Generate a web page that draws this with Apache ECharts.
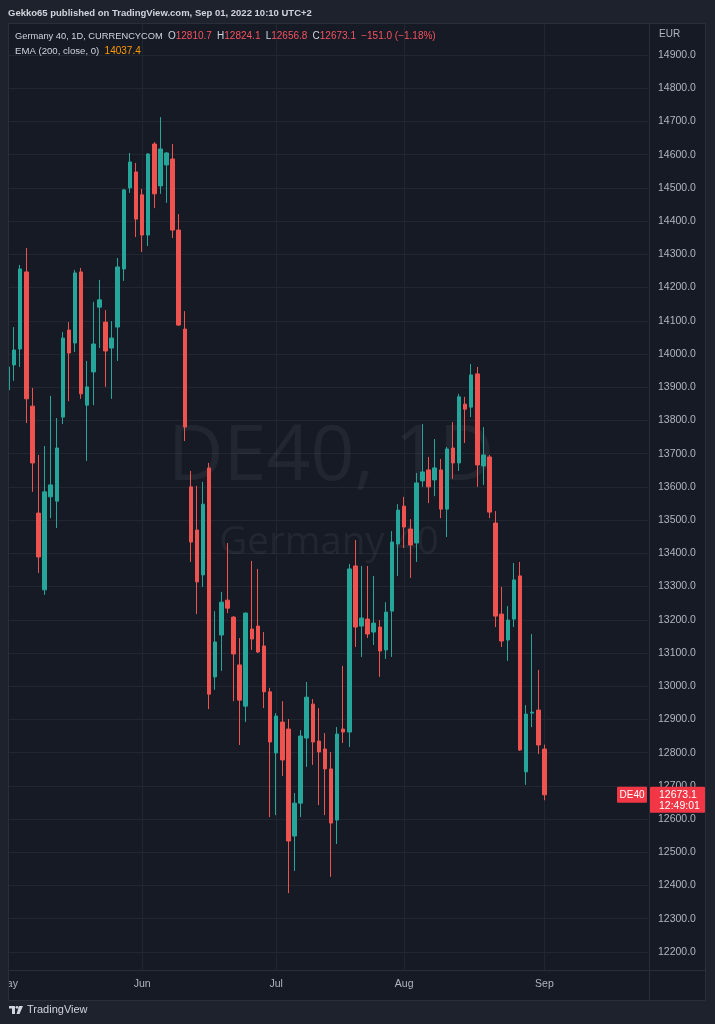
<!DOCTYPE html>
<html><head><meta charset="utf-8">
<script src="https://cdn.jsdelivr.net/npm/echarts@6/dist/echarts.min.js"></script>
<style>html,body{margin:0;padding:0;background:#1e222d;}#c{width:715px;height:1024px;}</style>
</head><body><div id="c"></div>
<script>
// ---- data ----
const dates = [
 '2022-05-02','2022-05-03','2022-05-04','2022-05-05','2022-05-06','2022-05-09','2022-05-10','2022-05-11','2022-05-12','2022-05-13',
 '2022-05-16','2022-05-17','2022-05-18','2022-05-19','2022-05-20','2022-05-23','2022-05-24','2022-05-25','2022-05-26','2022-05-27',
 '2022-05-30','2022-05-31',
 '2022-06-01','2022-06-02','2022-06-03','2022-06-06','2022-06-07','2022-06-08','2022-06-09','2022-06-10','2022-06-13','2022-06-14',
 '2022-06-15','2022-06-16','2022-06-17','2022-06-20','2022-06-21','2022-06-22','2022-06-23','2022-06-24','2022-06-27','2022-06-28',
 '2022-06-29','2022-06-30',
 '2022-07-01','2022-07-04','2022-07-05','2022-07-06','2022-07-07','2022-07-08','2022-07-11','2022-07-12','2022-07-13','2022-07-14',
 '2022-07-15','2022-07-18','2022-07-19','2022-07-20','2022-07-21','2022-07-22','2022-07-25','2022-07-26','2022-07-27','2022-07-28',
 '2022-07-29',
 '2022-08-01','2022-08-02','2022-08-03','2022-08-04','2022-08-05','2022-08-08','2022-08-09','2022-08-10','2022-08-11','2022-08-12',
 '2022-08-15','2022-08-16','2022-08-17','2022-08-18','2022-08-19','2022-08-22','2022-08-23','2022-08-24','2022-08-25','2022-08-26',
 '2022-08-29','2022-08-30','2022-08-31',
 '2022-09-01',
 // empty future space on the right of the chart
 '2022-09-02','2022-09-05','2022-09-06','2022-09-07','2022-09-08','2022-09-09','2022-09-12','2022-09-13','2022-09-14','2022-09-15',
 '2022-09-16','2022-09-19','2022-09-20','2022-09-21','2022-09-22','2022-09-23','2022-09-26'
];
const opens = [13892,13967,14015,14247,13843,13521,13290,13570,13557,13810,
 14072,14033,14247,13846,13946,14141,14096,14018,14081,14256,
 14500,14548,14479,14358,14632,14506,14569,14587,14373,14075,
 13600,13470,13335,13657,13028,13154,13259,13208,13064,12940,
 13172,13181,13121,12983,12799,12892,12871,12549,12648,12844,
 12946,12835,12811,12751,12597,12871,12862,13362,13181,13202,
 13163,13178,13109,13226,13428,13542,13473,13431,13618,13651,
 13621,13651,13533,13717,13672,13849,13840,13940,13663,13690,
 13491,13217,13139,13202,13332,12742,12919,12928,12810.7];
const closes = [13961,14012,14256,13865,13672,13389,13585,13606,13717,14048,
 14003,14244,13880,13901,14030,14163,14009,14048,14262,14494,
 14578,14406,14358,14602,14482,14617,14605,14373,14087,13780,
 13434,13314,13548,12976,13133,13253,13235,13097,12958,13220,
 13142,13103,12983,12832,12910,12778,12534,12648,12850,12967,
 12832,12802,12751,12588,12856,12862,13353,13178,13205,13157,
 13190,13106,13223,13434,13530,13479,13425,13612,13645,13600,
 13657,13533,13714,13672,13871,13834,13937,13666,13696,13524,
 13211,13136,13199,13320,12808,12916,12922,12823,12673.1];
const lows = [13801,13919,13961,13792,13585,13341,13275,13506,13476,13789,
 13858,14006,13865,13678,13846,14018,13901,13865,13979,14220,
 14485,14352,14307,14325,14439,14482,14455,14349,14085,13738,
 13374,13217,13299,12931,12989,13046,13220,12955,12823,12892,
 13109,13100,12934,12606,12612,12730,12377,12444,12606,12757,
 12763,12642,12612,12426,12525,12829,12817,13118,13088,13145,
 13124,13028,13082,13088,13332,13416,13326,13374,13600,13551,
 13572,13506,13449,13624,13648,13732,13810,13600,13606,13506,
 13178,13118,13076,13178,12805,12703,12877,12796,12656.8];
const highs = [14042,14081,14268,14319,13898,13696,13723,13874,13807,14066,
 14096,14253,14259,13979,14157,14223,14132,14099,14289,14497,
 14605,14575,14497,14605,14638,14713,14608,14632,14421,14129,
 13648,13603,13615,13672,13226,13284,13431,13211,13145,13222,
 13377,13353,13163,12995,12919,12955,12901,12678,12868,13013,
 12961,12934,12859,12802,12877,13061,13368,13440,13362,13362,
 13332,13199,13253,13467,13548,13570,13503,13642,13789,13690,
 13744,13684,13720,13795,13880,13871,13970,13961,13780,13696,
 13527,13299,13241,13371,13374,12943,13157,13049,12824.1];
const monthTicks = {'2022-05-02':'May','2022-06-01':'Jun','2022-07-01':'Jul','2022-08-01':'Aug','2022-09-01':'Sep'};
const priceMin = 12100, priceMax = 15000, priceStep = 100;
const emaValue = 14037.4;
const symbolText = 'DE40, 1D', symbolName = 'Germany 40';
const headerText = 'Gekko65 published on TradingView.com, Sep 01, 2022 10:10 UTC+2';
const changeText = '\u2212151.0 (\u22121.18%)';
const countdown = '12:49:01';

// ---- chart ----
const UP = '#26a69a', DOWN = '#ef5350';
const CHART_BG = '#161a25', OUTER = '#1e222d', GRID = '#222631', FRAME = '#2a2e39';
const FONT = '"Liberation Sans", Arial, sans-serif';
const candles = opens.map((o, i) => [o, closes[i], lows[i], highs[i]]);
const isTick = (idx) => monthTicks[dates[idx]] !== undefined;
const last = candles.length - 1;

const chart = echarts.init(document.getElementById('c'));
const gridTop = 21.78, gridH = 963.4;
chart.setOption({
  backgroundColor: CHART_BG,
  animation: false,
  grid: {left: 8, right: 67, top: gridTop, height: gridH, containLabel: false, outerBoundsMode: 'none'},
  xAxis: [
    {type: 'category', data: dates, boundaryGap: false, offset: -15, z: 5,
     axisLine: {show: false}, axisTick: {show: false},
     axisLabel: {interval: (i) => isTick(i), formatter: (v) => monthTicks[v] || '',
                 color: '#b2b5be', fontSize: 10.5, fontFamily: FONT, margin: 8, hideOverlap: false},
     splitLine: {show: false}},
    {type: 'category', data: dates, boundaryGap: false, show: true, z: 0,
     axisLine: {show: false}, axisTick: {show: false}, axisLabel: {show: false},
     splitLine: {show: true, interval: (i) => isTick(i), lineStyle: {color: GRID, width: 1}}}
  ],
  yAxis: {type: 'value', position: 'right', min: priceMin, max: priceMax, interval: priceStep,
    axisLine: {show: false}, axisTick: {show: false},
    axisLabel: {color: '#b2b5be', fontSize: 10.5, fontFamily: FONT, margin: 10, align: 'left',
                showMinLabel: false, showMaxLabel: false, formatter: (v) => v.toFixed(1)},
    splitLine: {show: true, lineStyle: {color: GRID, width: 1}}},
  series: [{
    type: 'candlestick', data: candles, barWidth: 4, clip: true,
    itemStyle: {color: UP, color0: DOWN, borderColor: UP, borderColor0: DOWN, borderWidth: 1}
  }]
});

const pxY = chart.convertToPixel({yAxisIndex: 0}, closes[last]);
const red = '#f23645';
const wm = 'rgba(255,255,255,0.055)';
chart.setOption({
  graphic: [
    // watermark
    {type: 'text', z: 1, silent: true,
     style: {text: symbolText, x: 331, y: 458, align: 'center', verticalAlign: 'middle',
             font: '400 77px "Open Sans", sans-serif', fill: wm}},
    {type: 'text', z: 1, silent: true,
     style: {text: symbolName, x: 329, y: 543, align: 'center', verticalAlign: 'middle',
             font: '400 38.5px "Open Sans", sans-serif', fill: wm}},
    // date band cover
    {type: 'rect', z: 1, silent: true, shape: {x: 8, y: 970, width: 641, height: 31}, style: {fill: CHART_BG}},
    // outer regions
    {type: 'rect', z: 10, silent: true, shape: {x: 0, y: 0, width: 715, height: 23}, style: {fill: OUTER}},
    {type: 'rect', z: 10, silent: true, shape: {x: 0, y: 0, width: 8, height: 1024}, style: {fill: OUTER}},
    {type: 'rect', z: 10, silent: true, shape: {x: 706, y: 0, width: 9, height: 1024}, style: {fill: OUTER}},
    {type: 'rect', z: 10, silent: true, shape: {x: 0, y: 1001, width: 715, height: 23}, style: {fill: OUTER}},
    // frame lines
    {type: 'rect', z: 10, silent: true, shape: {x: 8.5, y: 23.5, width: 697, height: 977}, style: {fill: null, stroke: FRAME, lineWidth: 1}},
    {type: 'line', z: 10, silent: true, shape: {x1: 649.5, y1: 23, x2: 649.5, y2: 1001}, style: {stroke: FRAME, lineWidth: 1}},
    {type: 'line', z: 10, silent: true, shape: {x1: 8, y1: 970.5, x2: 706, y2: 970.5}, style: {stroke: FRAME, lineWidth: 1}},
    // header
    {type: 'text', z: 11, silent: true,
     style: {text: headerText, x: 8, y: 13, verticalAlign: 'middle', font: 'bold 9.5px ' + FONT, fill: '#d1d4dc'}},
    // legend lines
    {type: 'text', z: 11, silent: true,
     style: {x: 15, y: 36, verticalAlign: 'middle', font: '9.4px ' + FONT, fill: '#d1d4dc',
       text: '{n|Germany 40, 1D, CURRENCYCOM}  {l|O}{r|' + opens[last].toFixed(1) + '}  {l|H}{r|' + highs[last].toFixed(1) +
             '}  {l|L}{r|' + lows[last].toFixed(1) + '}  {l|C}{r|' + closes[last].toFixed(1) + '}  {r|' + changeText + '}',
       rich: {n: {fill: '#d1d4dc', font: '9.3px ' + FONT},
              l: {fill: '#d1d4dc', font: '10px ' + FONT}, r: {fill: '#f7525f', font: '10px ' + FONT}}}},
    {type: 'text', z: 11, silent: true,
     style: {x: 15, y: 51, verticalAlign: 'middle', font: '9.6px ' + FONT, fill: '#d1d4dc',
       text: 'EMA (200, close, 0)  {o|' + emaValue.toFixed(1) + '}',
       rich: {o: {fill: '#ff9800', font: '10px ' + FONT}}}},
    {type: 'text', z: 11, silent: true,
     style: {text: 'EUR', x: 659, y: 34, verticalAlign: 'middle', font: '10px ' + FONT, fill: '#b2b5be'}},
    // last price tags
    {type: 'rect', z: 11, silent: true, shape: {x: 617, y: pxY - 8, width: 30, height: 16, r: 1}, style: {fill: red}},
    {type: 'text', z: 12, silent: true,
     style: {text: 'DE40', x: 632, y: pxY, align: 'center', verticalAlign: 'middle', font: '10px ' + FONT, fill: '#fff'}},
    {type: 'rect', z: 11, silent: true, shape: {x: 650, y: pxY - 8, width: 55, height: 26, r: 1}, style: {fill: red}},
    {type: 'text', z: 12, silent: true,
     style: {text: closes[last].toFixed(1), x: 659, y: pxY, verticalAlign: 'middle', font: '10.5px ' + FONT, fill: '#fff'}},
    {type: 'text', z: 12, silent: true,
     style: {text: countdown, x: 659, y: pxY + 11, verticalAlign: 'middle', font: '10.5px ' + FONT, fill: '#fff'}},
    // TradingView logo
    {type: 'group', z: 11, silent: true, children: [
      {type: 'rect', z: 11, shape: {x: 9, y: 1006, width: 6, height: 2.5}, style: {fill: '#d1d4dc'}},
      {type: 'rect', z: 11, shape: {x: 12, y: 1006, width: 3, height: 8}, style: {fill: '#d1d4dc'}},
      {type: 'circle', z: 11, shape: {cx: 17, cy: 1007.3, r: 1.4}, style: {fill: '#d1d4dc'}},
      {type: 'polygon', z: 11, shape: {points: [[19, 1006], [23, 1006], [19.5, 1014], [16.5, 1014]]}, style: {fill: '#d1d4dc'}},
      {type: 'text', z: 11, style: {text: 'TradingView', x: 27, y: 1010, verticalAlign: 'middle', font: '11px ' + FONT, fill: '#d1d4dc'}}
    ]}
  ]
});
</script></body></html>
